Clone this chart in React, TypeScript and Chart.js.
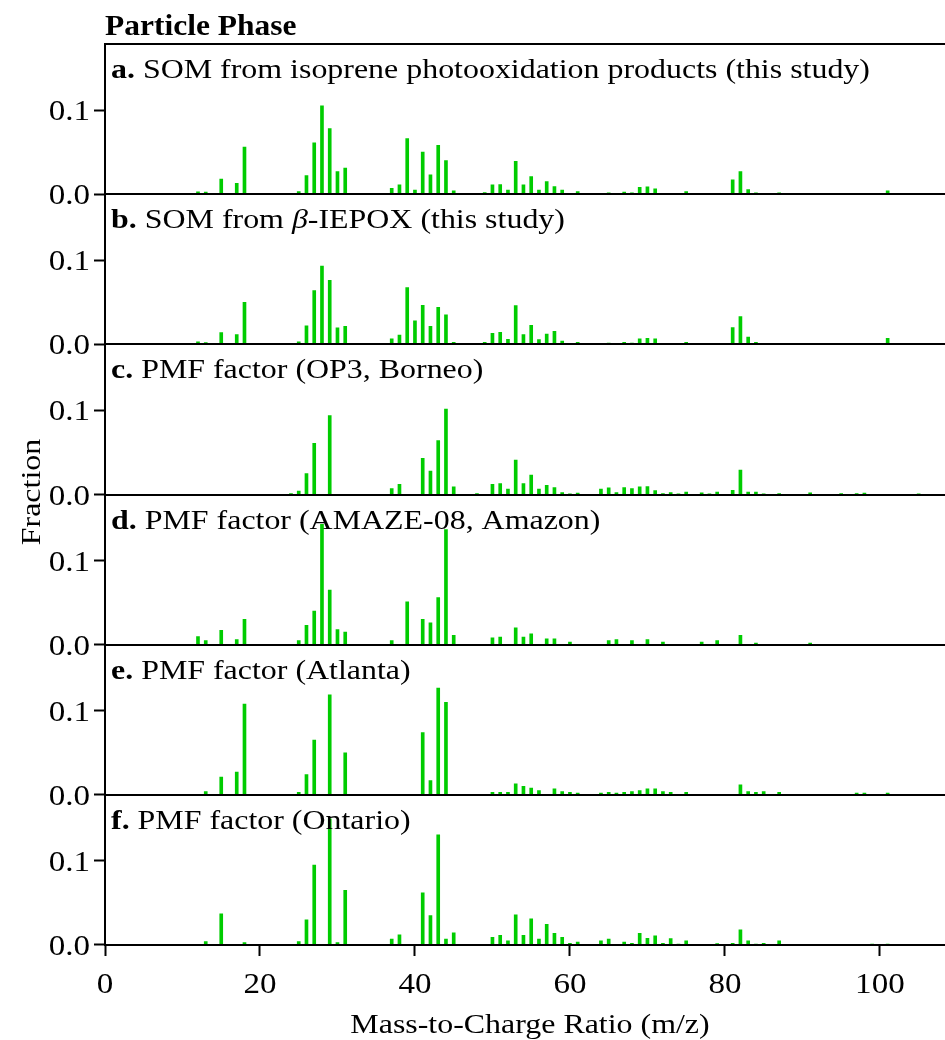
import React, { useEffect, useRef } from 'react';
import { Chart, registerables } from 'chart.js';

Chart.register(...registerables);

const FONT = '"Liberation Serif", "Times New Roman", serif';
const SX = 1.14; // horizontal text stretch of the reference
const BAR_COLOR = '#00CC00';

const xTicks = [0, 20, 40, 60, 80, 100];
const yTicks = [0, 0.1];
const xMax = 108.4;
const yMax = 0.1786;

const panelLetters = ['a.', 'b.', 'c.', 'd.', 'e.', 'f.'];
const panelTitles = [
  'SOM from isoprene photooxidation products (this study)',
  'SOM from _β_-IEPOX (this study)',
  'PMF factor (OP3, Borneo)',
  'PMF factor (AMAZE-08, Amazon)',
  'PMF factor (Atlanta)',
  'PMF factor (Ontario)',
];

// a. SOM from isoprene photooxidation products
const mzA = [12, 13, 15, 16, 17, 18, 25, 26, 27, 28, 29, 30, 31, 37, 38, 39, 40, 41, 42, 43, 44, 45, 48, 49, 50, 51, 52, 53, 54, 55, 56, 57, 58, 59, 61, 65, 66, 67, 68, 69, 70, 71, 72, 75, 81, 82, 83, 84, 87, 101];
const fracA = [0.0028, 0.0024, 0.018, 0.001, 0.013, 0.056, 0.003, 0.022, 0.061, 0.105, 0.078, 0.027, 0.031, 0.0068, 0.011, 0.066, 0.005, 0.05, 0.023, 0.058, 0.04, 0.004, 0.001, 0.002, 0.011, 0.0115, 0.005, 0.039, 0.011, 0.021, 0.005, 0.015, 0.009, 0.005, 0.003, 0.0016, 0.001, 0.0024, 0.0016, 0.008, 0.0087, 0.0064, 0.001, 0.003, 0.017, 0.027, 0.0056, 0.0016, 0.0016, 0.004];

// b. SOM from beta-IEPOX
const mzB = [12, 13, 15, 16, 17, 18, 25, 26, 27, 28, 29, 30, 31, 37, 38, 39, 40, 41, 42, 43, 44, 45, 49, 50, 51, 52, 53, 54, 55, 56, 57, 58, 59, 61, 65, 66, 67, 68, 69, 70, 71, 72, 73, 75, 77, 79, 81, 82, 83, 84, 87, 91, 94, 95, 100, 101];
const fracB = [0.003, 0.002, 0.014, 0.0008, 0.0115, 0.05, 0.003, 0.022, 0.064, 0.093, 0.076, 0.0195, 0.0215, 0.0064, 0.011, 0.0675, 0.028, 0.0465, 0.0215, 0.044, 0.035, 0.0024, 0.0024, 0.013, 0.0143, 0.006, 0.046, 0.0115, 0.0226, 0.0056, 0.0123, 0.0155, 0.004, 0.0024, 0.0016, 0.001, 0.0024, 0.0016, 0.0064, 0.007, 0.0064, 0.0008, 0.0008, 0.0024, 0.0008, 0.0008, 0.02, 0.033, 0.0087, 0.0024, 0.0008, 0.0008, 0.0008, 0.0008, 0.0008, 0.007];

// c. PMF factor (OP3, Borneo)
const mzC = [24, 25, 26, 27, 29, 37, 38, 41, 42, 43, 44, 45, 48, 50, 51, 52, 53, 54, 55, 56, 57, 58, 59, 60, 61, 64, 65, 66, 67, 68, 69, 70, 71, 72, 73, 74, 75, 77, 78, 79, 81, 82, 83, 84, 85, 87, 91, 95, 97, 98, 105];
const fracC = [0.001, 0.004, 0.025, 0.061, 0.094, 0.007, 0.012, 0.043, 0.028, 0.064, 0.1017, 0.009, 0.001, 0.012, 0.013, 0.0064, 0.041, 0.013, 0.023, 0.0064, 0.011, 0.0083, 0.0024, 0.0008, 0.0016, 0.0064, 0.008, 0.0024, 0.0083, 0.007, 0.009, 0.0095, 0.0048, 0.0012, 0.0024, 0.0008, 0.003, 0.002, 0.0008, 0.0028, 0.005, 0.029, 0.003, 0.003, 0.0008, 0.0012, 0.002, 0.0012, 0.0012, 0.0016, 0.0008];

// d. PMF factor (AMAZE-08, Amazon)
const mzD = [12, 13, 15, 17, 18, 25, 26, 27, 28, 29, 30, 31, 37, 39, 41, 42, 43, 44, 45, 50, 51, 53, 54, 55, 57, 58, 60, 65, 66, 68, 70, 72, 77, 79, 82, 84, 91];
const fracD = [0.0095, 0.005, 0.017, 0.006, 0.03, 0.005, 0.023, 0.04, 0.143, 0.065, 0.018, 0.015, 0.005, 0.051, 0.03, 0.026, 0.056, 0.137, 0.011, 0.008, 0.009, 0.02, 0.009, 0.013, 0.007, 0.007, 0.003, 0.005, 0.006, 0.005, 0.006, 0.003, 0.003, 0.005, 0.011, 0.002, 0.002];

// e. PMF factor (Atlanta)
const mzE = [13, 15, 17, 18, 25, 26, 27, 29, 31, 41, 42, 43, 44, 50, 51, 52, 53, 54, 55, 56, 58, 59, 60, 61, 64, 65, 66, 67, 68, 69, 70, 71, 72, 73, 75, 82, 83, 84, 85, 87, 97, 98, 101];
const fracE = [0.004, 0.021, 0.027, 0.108, 0.003, 0.024, 0.065, 0.119, 0.05, 0.074, 0.017, 0.127, 0.11, 0.003, 0.003, 0.003, 0.013, 0.01, 0.008, 0.005, 0.007, 0.004, 0.003, 0.002, 0.002, 0.003, 0.002, 0.003, 0.004, 0.005, 0.007, 0.007, 0.004, 0.003, 0.003, 0.012, 0.004, 0.003, 0.004, 0.003, 0.002, 0.002, 0.002];

// f. PMF factor (Ontario)
const mzF = [13, 15, 18, 25, 26, 27, 29, 30, 31, 37, 38, 41, 42, 43, 44, 45, 50, 51, 52, 53, 54, 55, 56, 57, 58, 59, 60, 61, 64, 65, 67, 68, 69, 70, 71, 72, 73, 74, 75, 79, 81, 82, 83, 84, 85, 87, 99, 101];
const fracF = [0.004, 0.037, 0.003, 0.004, 0.03, 0.095, 0.15, 0.003, 0.065, 0.007, 0.012, 0.062, 0.035, 0.131, 0.007, 0.0146, 0.009, 0.0115, 0.005, 0.036, 0.0115, 0.031, 0.007, 0.0246, 0.014, 0.009, 0.002, 0.0036, 0.005, 0.007, 0.0036, 0.002, 0.014, 0.008, 0.011, 0.002, 0.0075, 0.001, 0.005, 0.0016, 0.002, 0.018, 0.005, 0.001, 0.002, 0.005, 0.001, 0.001];

const panelMz = [mzA, mzB, mzC, mzD, mzE, mzF];
const panelFrac = [fracA, fracB, fracC, fracD, fracE, fracF];

function stretchedText(ctx: CanvasRenderingContext2D, text: string, x: number, y: number, font: string, align: 'left' | 'center' | 'right' = 'left', rot = 0, sx = SX) {
  ctx.save();
  ctx.font = font;
  ctx.textBaseline = 'alphabetic';
  ctx.textAlign = align;
  ctx.translate(x, y);
  if (rot) ctx.rotate(rot);
  ctx.scale(sx, 1);
  ctx.fillText(text, 0, 0);
  ctx.restore();
}

function drawLabel(ctx: CanvasRenderingContext2D, letter: string, title: string, x: number, y: number, size: number) {
  const parts: { t: string; b: boolean; i: boolean }[] = [{ t: letter, b: true, i: false }];
  title.split('_').forEach((t, k) => {
    if (t) parts.push({ t: (k === 0 ? ' ' : '') + t, b: false, i: k % 2 === 1 });
  });
  let cx = x;
  for (const p of parts) {
    const font = `${p.i ? 'italic ' : ''}${p.b ? 'bold ' : ''}${size}px ${FONT}`;
    ctx.font = font;
    const w = ctx.measureText(p.t).width * SX;
    stretchedText(ctx, p.t, cx, y, font);
    cx += w;
  }
}

const textPlugin = {
  id: 'panelText',
  afterDraw(chart: any) {
    const ctx: CanvasRenderingContext2D = chart.ctx;
    const ca = chart.chartArea;
    ctx.save();
    ctx.fillStyle = '#000';
    ctx.strokeStyle = '#000';
    ctx.lineWidth = 2;
    // panel frames
    const top = chart.scales['y0'];
    ctx.beginPath();
    ctx.moveTo(ca.left, Math.round(top.top));
    ctx.lineTo(chart.width, Math.round(top.top));
    for (let p = 0; p < panelMz.length; p++) {
      const s = chart.scales['y' + p];
      const y0 = Math.round(s.getPixelForValue(0));
      ctx.moveTo(ca.left, y0);
      ctx.lineTo(chart.width, y0);
    }
    ctx.stroke();

    const tickFont = `29px ${FONT}`;
    for (let p = 0; p < panelMz.length; p++) {
      const s = chart.scales['y' + p];
      for (const v of yTicks) {
        stretchedText(ctx, v.toFixed(1), 90, s.getPixelForValue(v) + 10, tickFont, 'right');
      }
      drawLabel(ctx, panelLetters[p], panelTitles[p], 111, s.top + 34, 28);
    }
    const xs = chart.scales['x'];
    for (const v of xTicks) {
      stretchedText(ctx, String(v), xs.getPixelForValue(v), 993, tickFont, 'center');
    }
    stretchedText(ctx, 'Mass-to-Charge Ratio (m/z)', 530, 1033, `28px ${FONT}`, 'center');
    stretchedText(ctx, 'Fraction', 40, 492, `28px ${FONT}`, 'center', -Math.PI / 2);
    stretchedText(ctx, 'Particle Phase', 105, 35, `bold 30px ${FONT}`, 'left', 0, 1.05);
    ctx.restore();
  },
};

function yScale() {
  return {
    type: 'linear',
    position: 'left',
    stack: 'panels',
    stackWeight: 1,
    offset: false,
    min: 0,
    max: yMax,
    border: { display: true, color: '#000', width: 2 },
    grid: { offset: false, drawOnChartArea: false, drawTicks: true, tickLength: 11, tickWidth: 2, tickColor: '#000' },
    ticks: { display: false },
    afterBuildTicks: (s: any) => {
      s.ticks = yTicks.map((v) => ({ value: v }));
    },
    afterFit: (s: any) => {
      s.width = 105;
    },
  };
}

export default function App() {
  const ref = useRef<HTMLCanvasElement>(null);
  useEffect(() => {
    const canvas = ref.current!;
    const scales: any = {
      x: {
        type: 'linear',
        position: 'bottom',
        offset: false,
        min: 0,
        max: xMax,
        border: { display: true, color: '#000', width: 2 },
        grid: { offset: false, drawOnChartArea: false, drawTicks: true, tickLength: 11, tickWidth: 2, tickColor: '#000' },
        ticks: { display: false },
        afterBuildTicks: (s: any) => {
          s.ticks = xTicks.map((v) => ({ value: v }));
        },
        afterFit: (s: any) => {
          s.height = 95;
        },
      },
    };
    for (let p = panelMz.length - 1; p >= 0; p--) scales['y' + p] = yScale();

    const chart = new Chart(canvas, {
      type: 'bar',
      data: {
        datasets: panelMz.map((mz, p) => ({
          label: panelLetters[p],
          data: mz.map((m, i) => ({ x: m, y: panelFrac[p][i] })),
          xAxisID: 'x',
          yAxisID: 'y' + p,
          backgroundColor: BAR_COLOR,
          borderWidth: 0,
          barThickness: 3,
          grouped: false,
        })),
      } as any,
      options: {
        responsive: false,
        animation: false,
        devicePixelRatio: 1,
        layout: { padding: { top: 44, left: 0, right: 0, bottom: 0 } },
        plugins: { legend: { display: false }, tooltip: { enabled: false }, title: { display: false } },
        scales,
      } as any,
      plugins: [textPlugin],
    });
    return () => chart.destroy();
  }, []);
  return (
    <div style={{ position: 'absolute', left: 0, top: 0, width: 945, height: 1040, background: '#fff' }}>
      <canvas ref={ref} width={945} height={1040} style={{ display: 'block', width: 945, height: 1040 }} />
    </div>
  );
}
